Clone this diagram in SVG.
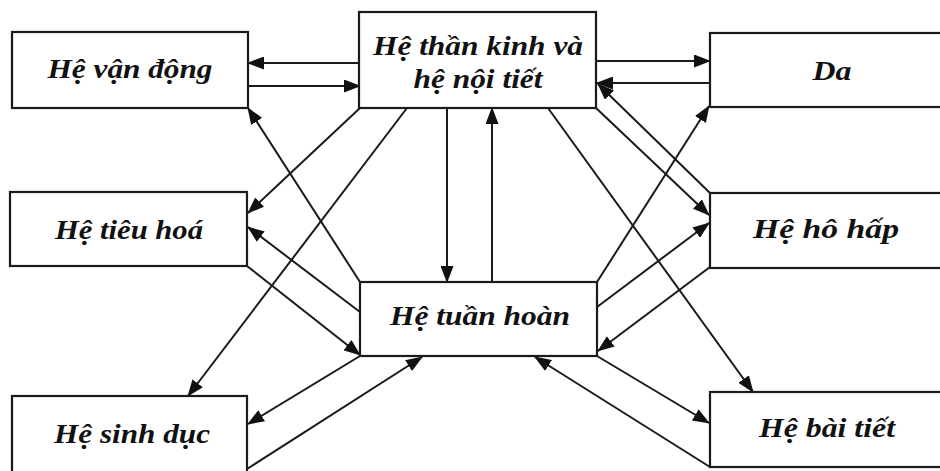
<svg xmlns="http://www.w3.org/2000/svg" width="940" height="471" viewBox="0 0 940 471">
<style>
.box{fill:#fff;stroke:#1a1a1a;stroke-width:2.2}
.lbl{font-family:"Liberation Serif","Times New Roman",serif;font-weight:bold;font-style:italic;font-size:27px;fill:#111;text-anchor:middle}
.c{stroke:#1a1a1a;stroke-width:2;fill:none;marker-end:url(#ah)}
</style>
<defs>
<marker id="ah" markerUnits="userSpaceOnUse" markerWidth="17" markerHeight="13" refX="16" refY="6.5" orient="auto" viewBox="0 0 17 13">
<path d="M0,0 L17,6.5 L0,13 z" fill="#111"/>
</marker>
</defs>
<rect width="940" height="471" fill="#fff"/>
<g id="connectors">
<path class="c" d="M360,63 L248,63"/>
<path class="c" d="M248,86 L360,86"/>
<path class="c" d="M596,61 L710,61"/>
<path class="c" d="M710,83 L597,83"/>
<path class="c" d="M360,108 L248,213"/>
<path class="c" d="M407,108 L188,396"/>
<path class="c" d="M360,282 L248,108"/>
<path class="c" d="M360,312 L248,227"/>
<path class="c" d="M247,266 L360,355"/>
<path class="c" d="M360,356 L248,424"/>
<path class="c" d="M247,469 L422,357"/>
<path class="c" d="M447,108 L447,282"/>
<path class="c" d="M492,282 L492,108"/>
<path class="c" d="M596,108 L709,215"/>
<path class="c" d="M710,193 L598,84"/>
<path class="c" d="M548,108 L753,392"/>
<path class="c" d="M597,282 L709,106"/>
<path class="c" d="M597,307 L709,223"/>
<path class="c" d="M710,267 L598,351"/>
<path class="c" d="M597,356 L709,423"/>
<path class="c" d="M710,467 L535,357"/>
</g>
<g id="n-van-dong"><rect class="box" x="12" y="32" width="236" height="76"/><text class="lbl" x="130" y="78" textLength="165" lengthAdjust="spacingAndGlyphs">Hệ vận động</text></g>
<g id="n-than-kinh"><rect class="box" x="359" y="12" width="237" height="96"/><text class="lbl" x="478" y="55" textLength="210" lengthAdjust="spacingAndGlyphs">Hệ thần kinh và</text><text class="lbl" x="478" y="88" textLength="129" lengthAdjust="spacingAndGlyphs">hệ nội tiết</text></g>
<g id="n-da"><rect class="box" x="710" y="33" width="240" height="74"/><text class="lbl" x="832" y="80" textLength="39" lengthAdjust="spacingAndGlyphs">Da</text></g>
<g id="n-tieu-hoa"><rect class="box" x="10" y="192" width="237" height="74"/><text class="lbl" x="129" y="239" textLength="148" lengthAdjust="spacingAndGlyphs">Hệ tiêu hoá</text></g>
<g id="n-ho-hap"><rect class="box" x="710" y="193" width="240" height="75"/><text class="lbl" x="826" y="238" textLength="146" lengthAdjust="spacingAndGlyphs">Hệ hô hấp</text></g>
<g id="n-tuan-hoan"><rect class="box" x="360" y="282" width="237" height="74"/><text class="lbl" x="480" y="325" textLength="180" lengthAdjust="spacingAndGlyphs">Hệ tuần hoàn</text></g>
<g id="n-sinh-duc"><rect class="box" x="12" y="396" width="235" height="85"/><text class="lbl" x="132" y="443" textLength="156" lengthAdjust="spacingAndGlyphs">Hệ sinh dục</text></g>
<g id="n-bai-tiet"><rect class="box" x="710" y="392" width="240" height="75"/><text class="lbl" x="827" y="437" textLength="136" lengthAdjust="spacingAndGlyphs">Hệ bài tiết</text></g>
</svg>
